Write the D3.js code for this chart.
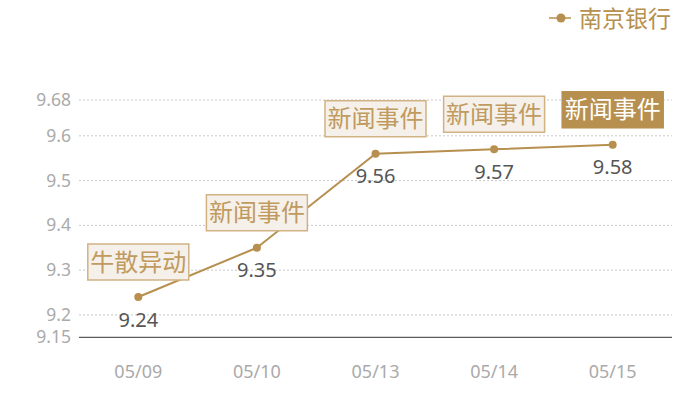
<!DOCTYPE html>
<html><head><meta charset="utf-8">
<script src="https://cdn.jsdelivr.net/npm/d3@7"></script>
<style>body{margin:0;background:#fff;}svg{display:block;font-family:"Noto Sans CJK SC","Noto Sans",sans-serif;}</style>
</head><body><svg id="c" width="700" height="400"></svg>
<script>
const categories = ["05/09","05/10","05/13","05/14","05/15"];
const values = [9.24, 9.35, 9.56, 9.57, 9.58];
const notes = ["牛散异动","新闻事件","新闻事件","新闻事件","新闻事件"];
const highlighted = [false,false,false,false,true];
const yTicks = [9.15, 9.2, 9.3, 9.4, 9.5, 9.6, 9.68];
const seriesName = "南京银行";

const gold = "#b78f4e";
const svg = d3.select("#c");
const x = d3.scaleBand().domain(categories).range([79, 672]);
const y = d3.scaleLinear().domain([9.15, 9.68]).range([337.3, 100]);
const cx = d => x(d) + x.bandwidth()/2;

// grid
svg.append("g").selectAll("line").data(yTicks.filter(t => t !== 9.15)).join("line")
  .attr("x1", 79).attr("x2", 672).attr("y1", d => y(d)).attr("y2", d => y(d))
  .attr("stroke", "#c8c8c8").attr("stroke-dasharray", "2,2").attr("stroke-width", 1);
// baseline
svg.append("line").attr("x1", 79).attr("x2", 672).attr("y1", y(9.15)).attr("y2", y(9.15))
  .attr("stroke", "#333").attr("stroke-width", 1);

// y axis labels
const yAxis = d3.axisLeft(y).tickValues(yTicks).tickSize(0).tickPadding(0).tickFormat(d => String(d));
const gy = svg.append("g").attr("transform", "translate(71,0)").call(yAxis);
gy.select(".domain").remove();
gy.selectAll("text").attr("fill", "#aaa").style("font-size", "17.5px").style("font-family", '"Noto Sans","Open Sans",sans-serif');

// x axis labels
const xAxis = d3.axisBottom(x).tickSize(0).tickPadding(0);
const gx = svg.append("g").attr("transform", "translate(0,365)").call(xAxis);
gx.select(".domain").remove();
gx.selectAll("text").attr("fill", "#aaa").style("font-size", "18px").style("font-family", '"Noto Sans","Open Sans",sans-serif');

// line
const data = categories.map((c, i) => ({c, v: values[i], n: notes[i], h: highlighted[i]}));
svg.append("path").datum(data)
  .attr("d", d3.line().x(d => cx(d.c)).y(d => y(d.v)))
  .attr("fill", "none").attr("stroke", gold).attr("stroke-width", 2);
svg.append("g").selectAll("circle").data(data).join("circle")
  .attr("cx", d => cx(d.c)).attr("cy", d => y(d.v)).attr("r", 4).attr("fill", gold);

// value labels
svg.append("g").selectAll("text").data(data).join("text")
  .attr("x", d => cx(d.c)).attr("y", d => y(d.v) + 29.5)
  .attr("text-anchor", "middle").attr("fill", "#555")
  .style("font-size", "20px").style("font-family", '"Noto Sans","Open Sans",sans-serif')
  .text(d => d.v.toFixed(2));

// annotation boxes
const bw = 101, bh = 36;
const ann = svg.append("g").selectAll("g").data(data).join("g")
  .attr("transform", d => `translate(${cx(d.c) - bw/2},${y(d.v) - 17 - bh})`);
ann.append("rect").attr("width", bw).attr("height", bh)
  .attr("fill", d => d.h ? "#b78f4e" : "#f5f0ea")
  .attr("stroke", d => d.h ? "#b78f4e" : "#d1b285").attr("stroke-width", 1.5);
ann.append("text").attr("x", bw/2).attr("y", bh/2 + 8.5).attr("text-anchor", "middle")
  .attr("fill", d => d.h ? "#fff" : "#c09a5f").style("font-size", "24px")
  .text(d => d.n);

// legend
const lg = svg.append("g");
lg.append("line").attr("x1", 549).attr("x2", 571).attr("y1", 18).attr("y2", 18).attr("stroke", gold).attr("stroke-width", 1.5);
lg.append("circle").attr("cx", 561).attr("cy", 18).attr("r", 4.5).attr("fill", gold);
lg.append("text").attr("x", 579).attr("y", 26.5).attr("fill", gold).style("font-size", "23px").text(seriesName);
</script></body></html>
